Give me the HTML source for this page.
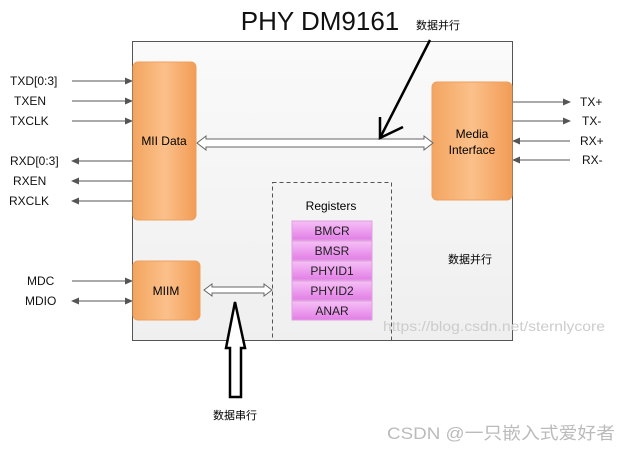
<!DOCTYPE html>
<html><head><meta charset="utf-8"><style>
body{margin:0;width:633px;height:450px;background:#fff;overflow:hidden;font-family:"Liberation Sans","Noto Sans CJK SC",sans-serif}
svg text{font-family:"Liberation Sans","Noto Sans CJK SC",sans-serif}
</style></head><body>
<svg width="633" height="450" viewBox="0 0 633 450">
<defs>
<linearGradient id="bg" x1="0" y1="0" x2="0" y2="1"><stop offset="0" stop-color="#fafafa"/><stop offset="1" stop-color="#efefef"/></linearGradient>
<linearGradient id="or" x1="0" y1="0" x2="1" y2="0"><stop offset="0" stop-color="#f3a560"/><stop offset="0.5" stop-color="#fbc08a"/><stop offset="1" stop-color="#f29c55"/></linearGradient>
<linearGradient id="pk" x1="0" y1="0" x2="0" y2="1"><stop offset="0" stop-color="#f6c0f6"/><stop offset="1" stop-color="#e27ee6"/></linearGradient>
<marker id="ah" markerWidth="8" markerHeight="8" refX="7" refY="4" orient="auto" markerUnits="userSpaceOnUse"><path d="M0,0.5 L8,4 L0,7.5 z" fill="#555"/></marker>
</defs>
<text x="320" y="30" font-size="26" text-anchor="middle" fill="#111">PHY DM9161</text>
<text x="438" y="29" font-size="11" text-anchor="middle">数据并行</text>
<rect x="132.5" y="41.5" width="380" height="299" fill="url(#bg)" stroke="#555"/>
<g font-size="12" fill="#111" stroke="#555">
<line x1="72" y1="81" x2="132" y2="81" marker-end="url(#ah)"/>
<line x1="72" y1="101" x2="132" y2="101" marker-end="url(#ah)"/>
<line x1="72" y1="121" x2="132" y2="121" marker-end="url(#ah)"/>
<line x1="132" y1="161" x2="72" y2="161" marker-end="url(#ah)"/>
<line x1="132" y1="181" x2="72" y2="181" marker-end="url(#ah)"/>
<line x1="132" y1="201" x2="72" y2="201" marker-end="url(#ah)"/>
<line x1="72" y1="281" x2="132" y2="281" marker-end="url(#ah)"/>
<line x1="80" y1="301" x2="132" y2="301" marker-end="url(#ah)"/>
<line x1="120" y1="301" x2="72" y2="301" marker-end="url(#ah)"/>
<line x1="513" y1="102" x2="570" y2="102" marker-end="url(#ah)"/>
<line x1="513" y1="121" x2="570" y2="121" marker-end="url(#ah)"/>
<line x1="570" y1="141" x2="513" y2="141" marker-end="url(#ah)"/>
<line x1="570" y1="160" x2="513" y2="160" marker-end="url(#ah)"/>
</g>
<g font-size="12" fill="#111">
<text x="10" y="85">TXD[0:3]</text><text x="14" y="105">TXEN</text><text x="10" y="125">TXCLK</text>
<text x="10" y="165">RXD[0:3]</text><text x="13" y="185">RXEN</text><text x="9" y="205">RXCLK</text>
<text x="27" y="285">MDC</text><text x="25" y="305">MDIO</text>
<text x="580" y="106">TX+</text><text x="582" y="125">TX-</text><text x="580" y="145">RX+</text><text x="582" y="164">RX-</text>
</g>
<rect x="133" y="62" width="63" height="158" rx="5" fill="url(#or)" stroke="#eea060"/>
<text x="164" y="145" font-size="12" text-anchor="middle">MII Data</text>
<rect x="432" y="82" width="80" height="118" rx="5" fill="url(#or)" stroke="#eea060"/>
<text x="472" y="138" font-size="12" text-anchor="middle">Media</text>
<text x="472" y="154" font-size="12" text-anchor="middle">Interface</text>
<rect x="133" y="261" width="67" height="59" rx="5" fill="url(#or)" stroke="#eea060"/>
<text x="166" y="295" font-size="12" text-anchor="middle">MIIM</text>
<path d="M197,143 L206,136 L206,139 L424,139 L424,136 L433,143 L424,150 L424,147 L206,147 L206,150 Z" fill="#fff" stroke="#666"/>
<path d="M204,290 L212,284 L212,287 L264,287 L264,284 L272,290 L264,296 L264,293 L212,293 L212,296 Z" fill="#fff" stroke="#666"/>
<rect x="272.5" y="182.5" width="119" height="158" fill="none" stroke="#555" stroke-dasharray="4,3"/>
<text x="331" y="210" font-size="12" text-anchor="middle">Registers</text>
<g font-size="12" text-anchor="middle" fill="#222">
<rect x="292" y="221" width="80" height="19" fill="url(#pk)" stroke="#e0a0e0"/><text x="332" y="235">BMCR</text>
<rect x="292" y="241" width="80" height="19" fill="url(#pk)" stroke="#e0a0e0"/><text x="332" y="255">BMSR</text>
<rect x="292" y="261" width="80" height="19" fill="url(#pk)" stroke="#e0a0e0"/><text x="332" y="275">PHYID1</text>
<rect x="292" y="281" width="80" height="19" fill="url(#pk)" stroke="#e0a0e0"/><text x="332" y="295">PHYID2</text>
<rect x="292" y="301" width="80" height="19" fill="url(#pk)" stroke="#e0a0e0"/><text x="332" y="315">ANAR</text>
</g>
<text x="470" y="263" font-size="11" text-anchor="middle">数据并行</text>
<line x1="430" y1="40" x2="380" y2="138" stroke="#000" stroke-width="2.5"/>
<polyline points="380,117 380,138 403,127" fill="none" stroke="#000" stroke-width="2.5"/>
<path d="M235,302 L245,348 L241,348 L241,397 L230,397 L230,348 L226,348 Z" fill="#fff" stroke="#000" stroke-width="2.5"/>
<text x="235" y="419" font-size="11" text-anchor="middle">数据串行</text>
<text x="383" y="331" font-size="14" fill="#ccc" textLength="222" lengthAdjust="spacingAndGlyphs">https://blog.csdn.net/sternlycore</text>
<text x="387" y="439" font-size="17" fill="#bbb" textLength="228" lengthAdjust="spacingAndGlyphs">CSDN @一只嵌入式爱好者</text>
</svg>
</body></html>
